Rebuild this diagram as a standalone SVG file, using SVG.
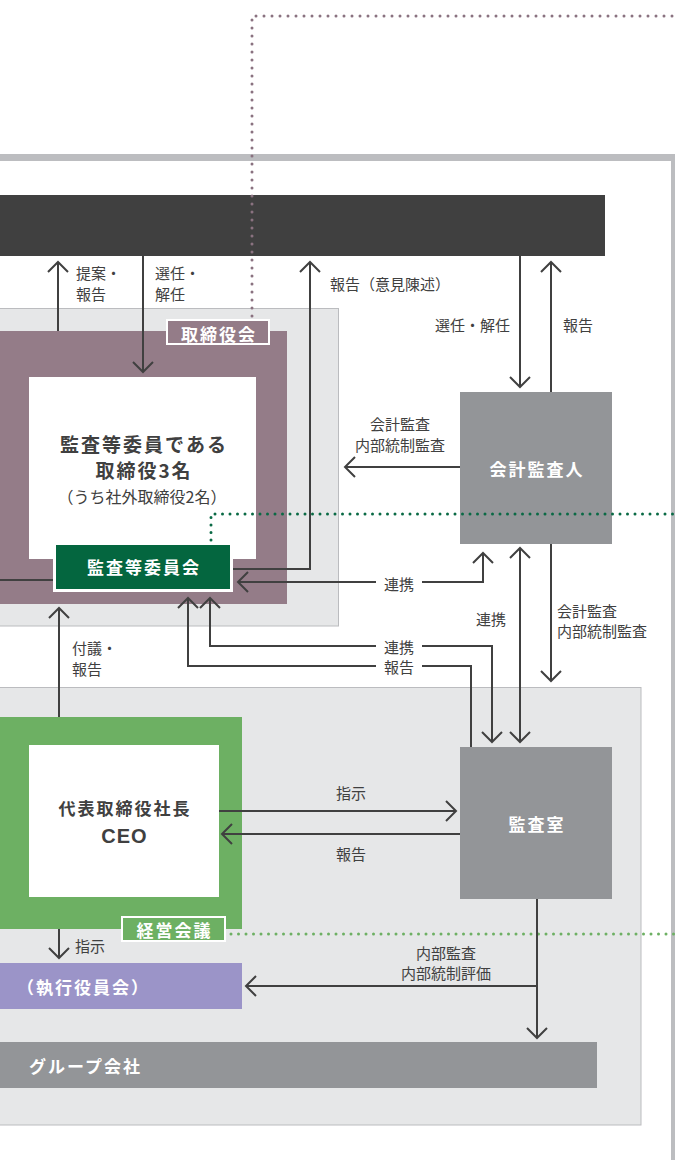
<svg xmlns="http://www.w3.org/2000/svg" width="675" height="1160" viewBox="0 0 675 1160">
<style>
.ln{fill:none;stroke:#404040;stroke-width:2}
.lab{font-family:"Noto Sans CJK JP","Noto Sans",sans-serif;font-size:15px;fill:#404040;dominant-baseline:central}
.bw{font-family:"Noto Sans CJK JP","Noto Sans",sans-serif;font-size:17px;font-weight:bold;fill:#ffffff;letter-spacing:2px;dominant-baseline:central}
.bd{font-family:"Noto Sans CJK JP","Noto Sans",sans-serif;font-weight:bold;fill:#404040;dominant-baseline:central}
.zone{fill:#e6e7e8;stroke:#bbbcbf;stroke-width:1}
.gbox{fill:#939598}
</style>
<defs>
<marker id="ah" markerUnits="userSpaceOnUse" markerWidth="30" markerHeight="30" viewBox="-15 -15 30 30" refX="0" refY="0" orient="auto-start-reverse" overflow="visible">
<path d="M-10,-10 L0,0 L-10,10" fill="none" stroke="#404040" stroke-width="2"/>
</marker>
</defs>
<rect width="675" height="1160" fill="#ffffff"/>
<g id="frame">
<rect x="0" y="154" width="675" height="7" fill="#bcbdc0"/>
<rect x="671" y="154" width="4" height="1006" fill="#bcbdc0"/>
</g>
<g id="shareholders">
<rect x="0" y="195" width="605" height="61" fill="#404040"/>
</g>
<g id="board-zone">
<rect class="zone" x="-1" y="308.5" width="339.5" height="317.5"/>
</g>
<g id="exec-zone">
<rect class="zone" x="-1" y="687.5" width="642" height="437.5"/>
</g>
<g id="board">
<rect x="0" y="331" width="287" height="273" fill="#947c88"/>
<rect x="29" y="377" width="227" height="182" fill="#ffffff"/>
<text class="bd" x="144" y="443.5" font-size="19" letter-spacing="2" text-anchor="middle">監査等委員である</text>
<text class="bd" x="144" y="469" font-size="19" letter-spacing="2" text-anchor="middle">取締役3名</text>
<text class="lab" x="142" y="495.5" text-anchor="middle" style="font-size:16px">（うち社外取締役2名）</text>
</g>
<g id="board-label">
<rect x="167" y="320" width="102" height="24" fill="#947c88" stroke="#ffffff" stroke-width="2"/>
<text class="bw" x="219" y="333" text-anchor="middle">取締役会</text>
</g>
<g id="audit-committee">
<rect x="54.5" y="543.5" width="177" height="47" fill="#04663f" stroke="#ffffff" stroke-width="3"/>
<text class="bw" x="144" y="566" text-anchor="middle">監査等委員会</text>
</g>
<g id="accounting-auditor">
<rect class="gbox" x="460" y="392" width="152" height="152"/>
<text class="bw" x="537" y="468" text-anchor="middle">会計監査人</text>
</g>
<g id="ceo">
<rect x="0" y="717" width="242" height="212" fill="#6db063"/>
<rect x="29" y="745" width="190" height="152" fill="#ffffff"/>
<text class="bd" x="125" y="807" font-size="17" letter-spacing="2" text-anchor="middle">代表取締役社長</text>
<text class="bd" x="124.5" y="836" font-size="20" letter-spacing="1" text-anchor="middle" style="font-family:'Liberation Sans',Arial,sans-serif">CEO</text>
</g>
<g id="management-meeting">
<rect x="122" y="917" width="103" height="24" fill="#6db063" stroke="#ffffff" stroke-width="2"/>
<text class="bw" x="174.5" y="929" text-anchor="middle">経営会議</text>
</g>
<g id="audit-office">
<rect class="gbox" x="460" y="747" width="152" height="152"/>
<text class="bw" x="537" y="823" text-anchor="middle">監査室</text>
</g>
<g id="executive-officers">
<rect x="0" y="963" width="242" height="46" fill="#9b94c8"/>
<text class="bw" x="17" y="986">（執行役員会）</text>
</g>
<g id="group-companies">
<rect class="gbox" x="0" y="1042" width="597" height="46"/>
<text class="bw" x="29" y="1065">グループ会社</text>
</g>
<g id="connectors">
<path d="M252,316 V16 H675" fill="none" stroke="#8a7280" stroke-width="3" stroke-linecap="round" stroke-dasharray="0 8"/>
<path d="M211,540 V514 H675" fill="none" stroke="#0a6a45" stroke-width="3" stroke-linecap="round" stroke-dasharray="0 7.5"/>
<path d="M231,934 H675" fill="none" stroke="#6db063" stroke-width="3" stroke-linecap="round" stroke-dasharray="0 7.5"/>
<path class="ln" d="M0,580 H53"/>
<path class="ln" d="M58,331 V262" marker-end="url(#ah)"/>
<path class="ln" d="M143,256 V372" marker-end="url(#ah)"/>
<path class="ln" d="M233,569 H310 V262" marker-end="url(#ah)"/>
<path class="ln" d="M520,256 V387" marker-end="url(#ah)"/>
<path class="ln" d="M551,392 V262" marker-end="url(#ah)"/>
<path class="ln" d="M460,467 H345" marker-end="url(#ah)"/>
<path class="ln" d="M376,582 H238" marker-end="url(#ah)"/>
<path class="ln" d="M422,582 H483 V553" marker-end="url(#ah)"/>
<path class="ln" d="M520,548 V742" marker-start="url(#ah)" marker-end="url(#ah)"/>
<path class="ln" d="M551,544 V681" marker-end="url(#ah)"/>
<path class="ln" d="M376,646 H210 V598" marker-end="url(#ah)"/>
<path class="ln" d="M422,646 H492 V742" marker-end="url(#ah)"/>
<path class="ln" d="M376,666 H188 V598" marker-end="url(#ah)"/>
<path class="ln" d="M422,666 H471 V747"/>
<path class="ln" d="M59,717 V608" marker-end="url(#ah)"/>
<path class="ln" d="M219,811 H456" marker-end="url(#ah)"/>
<path class="ln" d="M460,834 H222" marker-end="url(#ah)"/>
<path class="ln" d="M537,899 V1038" marker-end="url(#ah)"/>
<path class="ln" d="M537,986 H246" marker-end="url(#ah)"/>
<path class="ln" d="M59,929 V958" marker-end="url(#ah)"/>
<text class="lab" x="76" y="272">提案・</text>
<text class="lab" x="76" y="293">報告</text>
<text class="lab" x="155" y="272">選任・</text>
<text class="lab" x="155" y="293">解任</text>
<text class="lab" x="330" y="283.5">報告（意見陳述）</text>
<text class="lab" x="510" y="324" text-anchor="end">選任・解任</text>
<text class="lab" x="563" y="324">報告</text>
<text class="lab" x="400" y="423.5" text-anchor="middle">会計監査</text>
<text class="lab" x="400" y="444.5" text-anchor="middle">内部統制監査</text>
<text class="lab" x="399" y="583" text-anchor="middle">連携</text>
<text class="lab" x="491" y="618" text-anchor="middle">連携</text>
<text class="lab" x="557" y="610">会計監査</text>
<text class="lab" x="557" y="630">内部統制監査</text>
<text class="lab" x="399" y="646" text-anchor="middle">連携</text>
<text class="lab" x="399" y="666" text-anchor="middle">報告</text>
<text class="lab" x="72" y="647">付議・</text>
<text class="lab" x="72" y="668">報告</text>
<text class="lab" x="351" y="792" text-anchor="middle">指示</text>
<text class="lab" x="351" y="853" text-anchor="middle">報告</text>
<text class="lab" x="75" y="945">指示</text>
<text class="lab" x="446" y="952" text-anchor="middle">内部監査</text>
<text class="lab" x="446" y="972" text-anchor="middle">内部統制評価</text>
</g>
</svg>
